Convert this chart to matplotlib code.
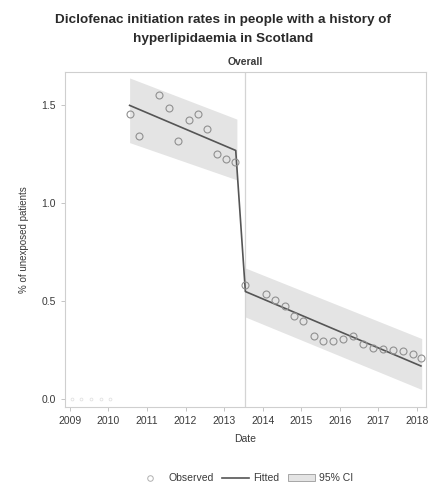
import matplotlib.pyplot as plt

# observed quarterly rates (% of unexposed patients)
pre_t = [2010.55, 2010.79, 2011.31, 2011.56, 2011.80, 2012.08, 2012.32, 2012.55, 2012.81, 2013.04, 2013.27]
pre_y = [1.456, 1.344, 1.554, 1.487, 1.318, 1.426, 1.456, 1.379, 1.251, 1.226, 1.210]

post_t = [2013.55, 2014.08, 2014.31, 2014.57, 2014.80, 2015.04, 2015.32, 2015.55, 2015.81, 2016.07,
          2016.33, 2016.59, 2016.85, 2017.11, 2017.37, 2017.63, 2017.89, 2018.10]
post_y = [0.585, 0.538, 0.508, 0.477, 0.426, 0.400, 0.323, 0.297, 0.300, 0.308,
          0.323, 0.282, 0.262, 0.256, 0.250, 0.246, 0.230, 0.210]

# faint zero-valued points at the very start
zero_t = [2009.05, 2009.30, 2009.55, 2009.80, 2010.05]
zero_y = [0.0, 0.0, 0.0, 0.0, 0.0]

# fitted segmented regression
fit_t = [2010.55, 2013.30, 2013.55, 2018.10]
fit_y = [1.50, 1.27, 0.55, 0.17]

# 95% CI bands
ci_pre_t = [2010.55, 2013.33]
ci_pre_lo = [1.31, 1.12]
ci_pre_hi = [1.64, 1.43]
ci_post_t = [2013.55, 2018.12]
ci_post_lo = [0.42, 0.05]
ci_post_hi = [0.67, 0.31]

intervention = 2013.53
years = list(range(2009, 2019))
yticks = [0.0, 0.5, 1.0, 1.5]

plt.rcParams['font.family'] = ['Liberation Sans', 'DejaVu Sans']
txt = '#3a3a3a'

fig = plt.figure(figsize=(4.32, 4.87), dpi=100)
ax = fig.add_axes([0.150, 0.164, 0.836, 0.688])

band_col = '#e4e4e4'
ax.fill_between(ci_pre_t, ci_pre_lo, ci_pre_hi, color=band_col, lw=0, zorder=1)
ax.fill_between(ci_post_t, ci_post_lo, ci_post_hi, color=band_col, lw=0, zorder=1)

ax.axvline(intervention, color='#d4d4d4', lw=0.9, zorder=2)

ax.plot(fit_t, fit_y, color='#555555', lw=1.2, zorder=3)

mk = dict(ls='none', marker='o', ms=5, mfc='none', mew=0.8, zorder=4)
ax.plot(pre_t, pre_y, mec='#909090', **mk)
ax.plot(post_t, post_y, mec='#909090', **mk)
ax.plot(zero_t, zero_y, ls='none', marker='o', ms=2, mfc='none', mec='#e2e2e2', mew=0.6, zorder=4)

ax.set_xlim(2008.87, 2018.23)
ax.set_ylim(-0.04, 1.67)
ax.set_xticks(years)
ax.set_xticklabels([str(y) for y in years])
ax.set_yticks(yticks)
ax.set_yticklabels(['0.0', '0.5', '1.0', '1.5'])
ax.tick_params(labelsize=7.5, colors='#bbbbbb', labelcolor=txt, length=3, width=0.6)
for s in ax.spines.values():
    s.set_color('#cfcfcf')
    s.set_linewidth(0.8)

ax.set_xlabel('Date', fontsize=7.5, color=txt, labelpad=6)
ax.set_ylabel('% of unexposed patients', fontsize=7, color=txt, labelpad=9)

fig.text(0.517, 0.972, 'Diclofenac initiation rates in people with a history of\nhyperlipidaemia in Scotland',
         ha='center', va='top', fontsize=9.7, fontweight='bold', color='#2a2a2a', linespacing=1.85)
fig.text(0.567, 0.872, 'Overall', ha='center', va='center', fontsize=7.5, fontweight='bold', color='#3a3a3a')

h_obs = plt.Line2D([], [], ls='none', marker='o', ms=4, mfc='none', mec='#b0b0b0', mew=0.7)
h_fit = plt.Line2D([], [], color='#555555', lw=1.2)
h_ci = plt.Rectangle((0, 0), 1, 1, fc='#e4e4e4', ec='#9a9a9a', lw=0.6)
fig.legend([h_obs, h_fit, h_ci], ['Observed', 'Fitted', '95% CI'], loc='center',
           bbox_to_anchor=(0.567, 0.018), ncol=3, frameon=False, fontsize=7.5,
           handlelength=2.6, columnspacing=0.8, handletextpad=0.4, labelcolor=txt)

fig.savefig('out.png', dpi=100, facecolor='white')
